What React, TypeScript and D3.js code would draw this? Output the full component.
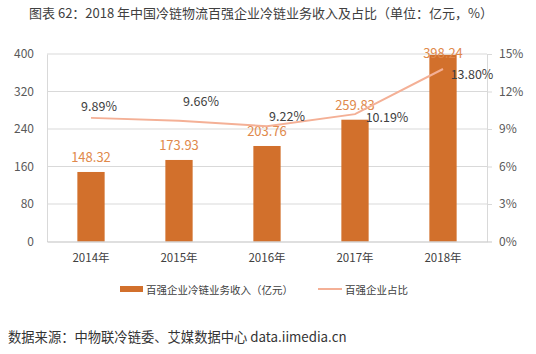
import { useRef, useEffect } from "react";
import * as d3 from "d3";

const W = 536;
const H = 354;
const margin = { top: 54, right: 49, bottom: 112.5, left: 47 };
const IW = W - margin.left - margin.right;
const IH = H - margin.top - margin.bottom;

const years = ["2014年", "2015年", "2016年", "2017年", "2018年"];
const revenue = [148.32, 173.93, 203.76, 259.83, 398.24];
const share = [9.89, 9.66, 9.22, 10.19, 13.8];
const leftTicks = [0, 80, 160, 240, 320, 400];
const rightTicks = [0, 3, 6, 9, 12, 15];

// manual label offsets for the share labels (dx, dy from the point)
const shareLabelOffset = [
  [8, -12],
  [22, -20],
  [20, -11],
  [32, 2],
  [29, 4],
];

const FONT = "'Noto Sans CJK SC', 'Noto Sans', sans-serif";
const BAR = "#D2702C";
const BAR_LABEL = "#E0894B";
const LINE = "#F4B096";
const GRID = "#D9D9D9";
const TICK = "#595959";

export default function App() {
  const ref = useRef<SVGSVGElement>(null);

  useEffect(() => {
    const svg = d3.select(ref.current);
    svg.selectAll("*").remove();
    svg.append("rect").attr("width", W).attr("height", H).attr("fill", "#fff");

    // title
    svg.append("text")
      .attr("x", 29).attr("y", 18)
      .style("font-size", "13px").attr("fill", "#404040")
      .text("图表 62：2018 年中国冷链物流百强企业冷链业务收入及占比（单位：亿元，%）");

    const g = svg.append("g").attr("transform", `translate(${margin.left},${margin.top})`);

    const x = d3.scaleBand().domain(years).range([0, IW]).paddingInner(0.69).paddingOuter(0.345);
    const y = d3.scaleLinear().domain([0, 400]).range([IH, 0]);
    const y2 = d3.scaleLinear().domain([0, 15]).range([IH, 0]);

    // grid
    g.selectAll(".grid").data(leftTicks.slice(1)).join("line")
      .attr("x1", 0).attr("x2", IW)
      .attr("y1", (d) => y(d)).attr("y2", (d) => y(d))
      .attr("stroke", GRID).attr("stroke-width", 1);

    // left axis
    const la = g.append("g").call(d3.axisLeft(y).tickValues(leftTicks).tickSize(0).tickPadding(13));
    la.select(".domain").attr("stroke", GRID);
    la.selectAll("text").attr("fill", TICK).style("font-size", "12px").style("font-family", FONT);

    // right axis
    const ra = g.append("g").attr("transform", `translate(${IW},0)`)
      .call(d3.axisRight(y2).tickValues(rightTicks).tickSize(5).tickPadding(7).tickFormat((d) => `${d}%`));
    ra.select(".domain").attr("stroke", GRID);
    ra.selectAll("line").attr("stroke", GRID);
    ra.selectAll("text").attr("fill", TICK).style("font-size", "12px").style("font-family", FONT);

    // bars
    g.selectAll(".bar").data(revenue).join("rect")
      .attr("x", (_, i) => x(years[i])!)
      .attr("width", x.bandwidth())
      .attr("y", (d) => y(d))
      .attr("height", (d) => IH - y(d))
      .attr("fill", BAR);

    // bottom axis
    const ba = g.append("g").attr("transform", `translate(0,${IH})`)
      .call(d3.axisBottom(x).tickSize(0).tickPadding(12));
    ba.select(".domain").attr("stroke", "#BFBFBF");
    ba.selectAll("text").attr("fill", "#404040").style("font-size", "11.5px").style("font-family", FONT);

    // bar labels
    g.selectAll(".blabel").data(revenue).join("text")
      .attr("x", (_, i) => x(years[i])! + x.bandwidth() / 2)
      .attr("y", (d) => Math.max(y(d) - 10, 4))
      .attr("text-anchor", "middle")
      .attr("fill", BAR_LABEL).style("font-size", "13px")
      .text((d) => d.toFixed(2));

    // line
    const cx = (i: number) => x(years[i])! + x.bandwidth() / 2;
    const ln = d3.line<number>().x((_, i) => cx(i)).y((d) => y2(d));
    g.append("path").datum(share).attr("d", ln)
      .attr("fill", "none").attr("stroke", LINE).attr("stroke-width", 2);

    g.selectAll(".slabel").data(share).join("text")
      .attr("x", (_, i) => cx(i) + shareLabelOffset[i][0])
      .attr("y", (d, i) => y2(d) + shareLabelOffset[i][1])
      .attr("text-anchor", "middle").attr("dominant-baseline", "central")
      .attr("fill", "#404040").style("font-size", "12.5px")
      .text((d) => `${d.toFixed(2)}%`);

    // legend
    const lg = svg.append("g").attr("transform", "translate(0,289)");
    lg.append("rect").attr("x", 120).attr("y", -3).attr("width", 23).attr("height", 6).attr("fill", BAR);
    lg.append("text").attr("x", 146).attr("y", 0).attr("dominant-baseline", "central")
      .style("font-size", "10.5px").attr("fill", "#404040").text("百强企业冷链业务收入（亿元）");
    lg.append("line").attr("x1", 318).attr("x2", 342).attr("y1", 0).attr("y2", 0)
      .attr("stroke", LINE).attr("stroke-width", 2);
    lg.append("text").attr("x", 345).attr("y", 0).attr("dominant-baseline", "central")
      .style("font-size", "10.5px").attr("fill", "#404040").text("百强企业占比");

    // source
    svg.append("text").attr("x", 8).attr("y", 342)
      .style("font-size", "13.3px").attr("fill", "#333")
      .text("数据来源：中物联冷链委、艾媒数据中心 data.iimedia.cn");
  }, []);

  return (
    <svg ref={ref} width={W} height={H}
      style={{ position: "absolute", left: 0, top: 0, fontFamily: FONT }} />
  );
}
